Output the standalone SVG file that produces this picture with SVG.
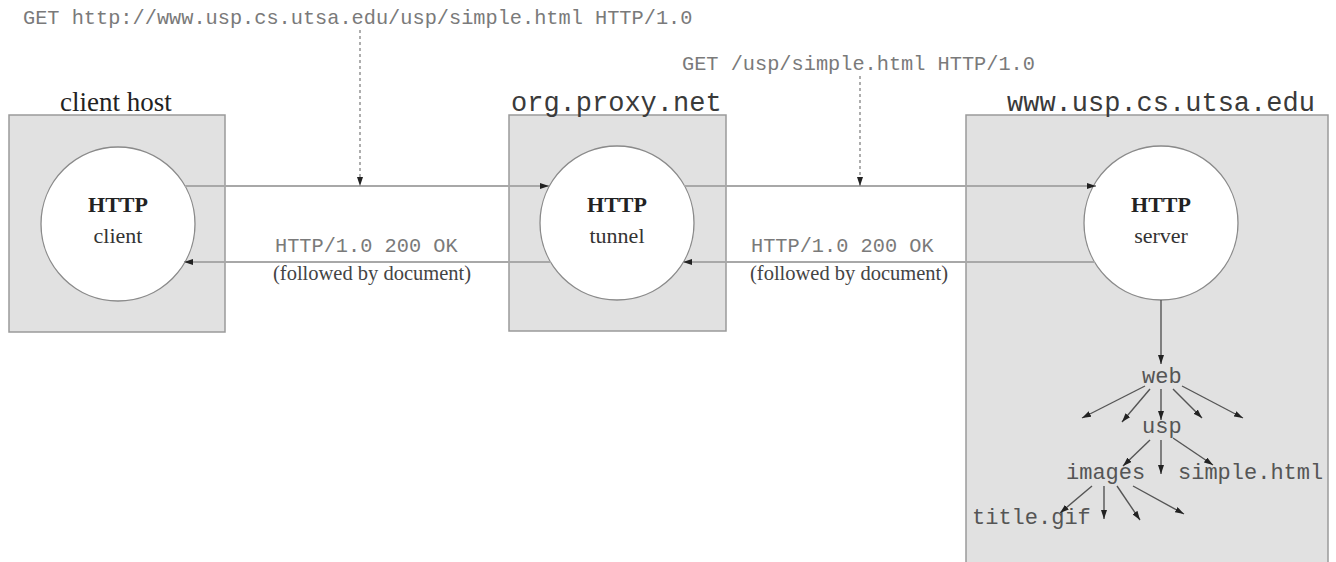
<svg xmlns="http://www.w3.org/2000/svg" width="1336" height="562" viewBox="0 0 1336 562">
<style>
.box{fill:#e1e1e1;stroke:#9a9a9a;stroke-width:1.5}
.circ{fill:#fff;stroke:#8a8a8a;stroke-width:1.3}
.host{font-family:"Liberation Mono",monospace;font-size:27px;fill:#3a3a3a}
.hostser{font-family:"Liberation Serif",serif;font-size:27px;fill:#222}
.bold{font-family:"Liberation Serif",serif;font-weight:bold;font-size:22px;fill:#222;text-anchor:middle}
.reg{font-family:"Liberation Serif",serif;font-size:22px;fill:#333;text-anchor:middle}
.mono{font-family:"Liberation Mono",monospace;font-size:20.3px;fill:#7a7a7a}
.note{font-family:"Liberation Serif",serif;font-size:20.5px;fill:#444}
.tree{font-family:"Liberation Mono",monospace;font-size:22px;fill:#555}
.conn{stroke:#a8a8a8;stroke-width:2.2;fill:none}
.dot{stroke:#9a9a9a;stroke-width:1.6;stroke-dasharray:3,3;fill:none}
.tarr{stroke:#555;stroke-width:1.4;fill:none}
</style>
<defs>
<marker id="ah" markerWidth="9" markerHeight="6" refX="9" refY="3" orient="auto" markerUnits="userSpaceOnUse">
<path d="M0,0 L9,3 L0,6 z" fill="#222"/>
</marker>
</defs>
<rect width="1336" height="562" fill="#fff"/>

<g id="client-host">
<rect class="box" x="9" y="115" width="216" height="217"/>
<text class="hostser" x="60" y="111">client host</text>
</g>
<g id="proxy-host">
<rect class="box" x="509" y="115" width="217" height="216"/>
<text class="host" x="511" y="111">org.proxy.net</text>
</g>
<g id="server-host">
<rect class="box" x="966" y="115" width="362" height="460"/>
<text class="host" x="1007" y="111">www.usp.cs.utsa.edu</text>
</g>

<g id="http-client">
<circle class="circ" cx="118" cy="224" r="77"/>
<text class="bold" x="118" y="212">HTTP</text>
<text class="reg" x="118" y="243">client</text>
</g>
<g id="http-tunnel">
<circle class="circ" cx="617" cy="223" r="77"/>
<text class="bold" x="617" y="212">HTTP</text>
<text class="reg" x="617" y="243">tunnel</text>
</g>
<g id="http-server">
<circle class="circ" cx="1161" cy="223" r="77"/>
<text class="bold" x="1161" y="212">HTTP</text>
<text class="reg" x="1161" y="243">server</text>
</g>

<g id="labels">
<text class="mono" x="23" y="24">GET http://www.usp.cs.utsa.edu/usp/simple.html HTTP/1.0</text>
<text class="mono" x="682" y="70">GET /usp/simple.html HTTP/1.0</text>
<text class="mono" x="275" y="252">HTTP/1.0 200 OK</text>
<text class="note" x="273" y="280">(followed by document)</text>
<text class="mono" x="751" y="252">HTTP/1.0 200 OK</text>
<text class="note" x="750" y="280">(followed by document)</text>
</g>

<g id="tree">
<text class="tree" x="1142" y="383">web</text>
<text class="tree" x="1142" y="433">usp</text>
<text class="tree" x="1066" y="479">images</text>
<text class="tree" x="1178" y="479">simple.html</text>
<text class="tree" x="972" y="524">title.gif</text>
</g>

<g id="connectors">
<line class="conn" x1="185" y1="186" x2="549" y2="186" marker-end="url(#ah)"/>
<line class="conn" x1="551" y1="262" x2="184" y2="262" marker-end="url(#ah)"/>
<line class="conn" x1="684" y1="186" x2="1096" y2="186" marker-end="url(#ah)"/>
<line class="conn" x1="1095" y1="262" x2="683" y2="262" marker-end="url(#ah)"/>
<line class="dot" x1="360" y1="30" x2="360" y2="186" marker-end="url(#ah)"/>
<line class="dot" x1="860" y1="76" x2="860" y2="186" marker-end="url(#ah)"/>
<line class="tarr" x1="1161" y1="300" x2="1161" y2="364" marker-end="url(#ah)"/>
<line class="tarr" x1="1145" y1="386" x2="1082" y2="418" marker-end="url(#ah)"/>
<line class="tarr" x1="1150" y1="389" x2="1122" y2="422" marker-end="url(#ah)"/>
<line class="tarr" x1="1161" y1="389" x2="1161" y2="420" marker-end="url(#ah)"/>
<line class="tarr" x1="1173" y1="389" x2="1202" y2="418" marker-end="url(#ah)"/>
<line class="tarr" x1="1182" y1="386" x2="1243" y2="418" marker-end="url(#ah)"/>
<line class="tarr" x1="1150" y1="440" x2="1123" y2="466" marker-end="url(#ah)"/>
<line class="tarr" x1="1161" y1="440" x2="1161" y2="474" marker-end="url(#ah)"/>
<line class="tarr" x1="1173" y1="438" x2="1213" y2="465" marker-end="url(#ah)"/>
<line class="tarr" x1="1092" y1="486" x2="1060" y2="513" marker-end="url(#ah)"/>
<line class="tarr" x1="1104" y1="486" x2="1104" y2="519" marker-end="url(#ah)"/>
<line class="tarr" x1="1117" y1="486" x2="1140" y2="520" marker-end="url(#ah)"/>
<line class="tarr" x1="1133" y1="486" x2="1184" y2="514" marker-end="url(#ah)"/>
</g>
</svg>
